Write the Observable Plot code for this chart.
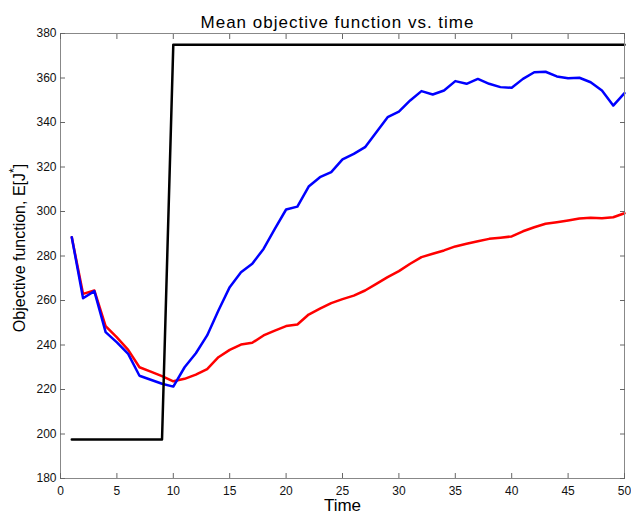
<!DOCTYPE html>
<html>
<head>
<meta charset="utf-8">
<script src="https://cdn.jsdelivr.net/npm/d3@7"></script>
<script src="https://cdn.jsdelivr.net/npm/@observablehq/plot@0.6"></script>
<style>
  html, body { margin: 0; padding: 0; background: #fff; }
</style>
</head>
<body>
<div id="chart"></div>
<script>
const time = [1,2,3,4,5,6,7,8,9,10,11,12,13,14,15,16,17,18,19,20,21,22,23,24,25,26,27,28,29,30,31,32,33,34,35,36,37,38,39,40,41,42,43,44,45,46,47,48,49,50];
const blueSeries = [288.4,261,264.2,245.8,241.2,236,226.2,224.4,222.6,221.3,230,236.3,244.3,255.5,266,272.7,276.5,283.2,292.2,300.9,302.2,311.2,315.4,317.7,323.4,325.9,328.9,335.6,342.4,344.9,349.9,354.1,352.6,354.4,358.6,357.4,359.6,357.4,355.9,355.6,359.6,362.6,362.8,360.7,359.9,360.1,358.1,354.4,347.6,353.2];
const redSeries = [288.4,263,264.5,248.5,243.4,237.8,230,228,226,223.7,224.8,226.7,229.2,234.5,237.8,240.2,241,244.3,246.5,248.5,249.2,253.7,256.3,258.8,260.6,262.2,264.5,267.5,270.5,273.2,276.5,279.5,281,282.5,284.3,285.5,286.6,287.7,288.2,288.8,291.1,292.9,294.5,295.2,296,296.9,297.2,297,297.4,299.2];
const blackSeries = [197.5,197.5,197.5,197.5,197.5,197.5,197.5,197.5,197.5,375,375,375,375,375,375,375,375,375,375,375,375,375,375,375,375,375,375,375,375,375,375,375,375,375,375,375,375,375,375,375,375,375,375,375,375,375,375,375,375,375];
const xTicks = [0,5,10,15,20,25,30,35,40,45,50];
const yTicks = [180,200,220,240,260,280,300,320,340,360,380];
const titleText = "Mean objective function vs. time";
const xLabel = "Time";
const yLabel = "Objective function, E[J*]";

const mk = s => time.map((t, i) => ({t, v: s[i]}));
const blueData = mk(blueSeries), redData = mk(redSeries), blackData = mk(blackSeries);

const chart = Plot.plot({
  width: 631, height: 519,
  marginTop: 33, marginLeft: 60, marginRight: 7, marginBottom: 41,
  style: {fontFamily: "'Liberation Sans', Arial, sans-serif", fontSize: "12px", background: "#fff", color: "#000"},
  x: {domain: [0, 50]},
  y: {domain: [180, 380]},
  marks: [
    Plot.line(redData, {x: "t", y: "v", stroke: "#ff0000", strokeWidth: 2.5}),
    Plot.line(blueData, {x: "t", y: "v", stroke: "#0000ff", strokeWidth: 2.5}),
    Plot.line(blackData, {x: "t", y: "v", stroke: "#000", strokeWidth: 2.5}),
    Plot.frame({stroke: "#888", strokeWidth: 1}),
    Plot.axisX(xTicks, {anchor: "bottom", tickSize: -5, tickPadding: 13, label: null, stroke: "#666", fill: "#111"}),
    Plot.axisX(xTicks, {anchor: "top", tickSize: -5, tickFormat: () => "", label: null, stroke: "#666"}),
    Plot.axisY(yTicks, {anchor: "left", tickSize: -5, tickPadding: 9, label: null, stroke: "#666", fill: "#111"}),
    Plot.axisY(yTicks, {anchor: "right", tickSize: -5, tickFormat: () => "", label: null, stroke: "#666"}),
    Plot.text([titleText], {text: d => d, frameAnchor: "top", dx: -5, dy: -17.5, fontSize: 17, fill: "#000"}),
    Plot.text([xLabel], {text: d => d, frameAnchor: "bottom", dy: 32.5, fontSize: 17, fill: "#000"}),
    Plot.text([yLabel], {text: d => d, frameAnchor: "left", textAnchor: "middle", dx: -41, dy: -8, rotate: -90, fontSize: 16, fill: "#000"})
  ]
});
document.getElementById("chart").appendChild(chart);

d3.select(chart).selectAll("text").each(function() {
  const t = d3.select(this);
  if (t.text() === yLabel) {
    t.text(null);
    t.append("tspan").text("Objective function, E[J");
    t.append("tspan").attr("baseline-shift", "super").attr("font-size", 12).text("*");
    t.append("tspan").text("]");
  } else if (t.text() === titleText) {
    t.attr("letter-spacing", "1");
  }
});
</script>
</body>
</html>
